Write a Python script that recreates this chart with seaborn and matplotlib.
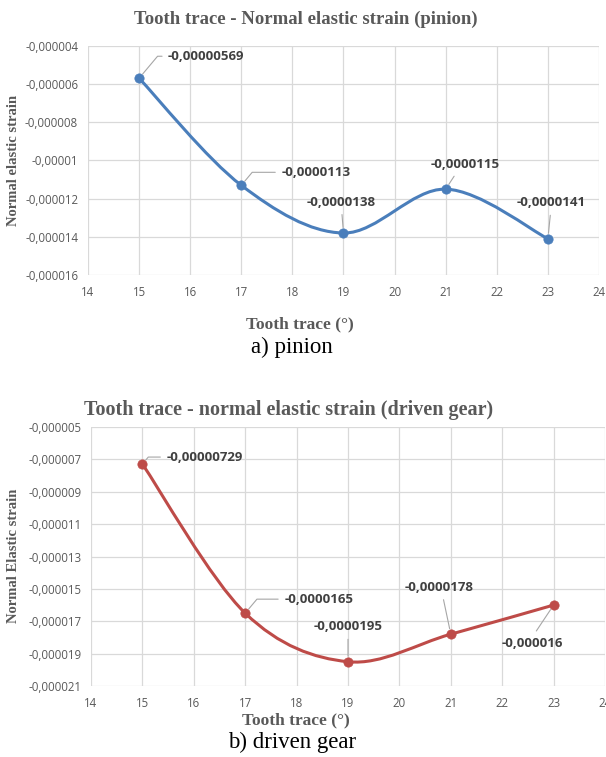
import numpy as np
import pandas as pd
import matplotlib
matplotlib.use("Agg")
import matplotlib.pyplot as plt
from matplotlib.path import Path
from matplotlib.patches import PathPatch
from matplotlib.ticker import FuncFormatter
import seaborn as sns

# data
tooth_trace = [15, 17, 19, 21, 23]
pinion_strain = [-0.00000569, -0.0000113, -0.0000138, -0.0000115, -0.0000141]
gear_strain = [-0.00000729, -0.0000165, -0.0000195, -0.0000178, -0.000016]
pinion_labels = ["-0,00000569", "-0,0000113", "-0,0000138", "-0,0000115", "-0,0000141"]
gear_labels = ["-0,00000729", "-0,0000165", "-0,0000195", "-0,0000178", "-0,000016"]
x_ticks = list(range(14, 25))
pinion_yticks = [-0.000016, -0.000014, -0.000012, -0.00001, -0.000008, -0.000006, -0.000004]
gear_yticks = [-0.000021, -0.000019, -0.000017, -0.000015, -0.000013, -0.000011,
               -0.000009, -0.000007, -0.000005]

sns.set_theme(style="whitegrid")
plt.rcParams["font.family"] = ["Open Sans", "DejaVu Sans"]

BLUE = "#4A7EBB"
RED = "#BE4B48"
GRID = "#D9D9D9"
TICK = "#595959"
LABEL = "#404040"
SERIF = ["Liberation Serif", "DejaVu Serif"]

W, H = 606, 757


def comma_fmt(v, pos=None):
    s = f"{v:.6f}".rstrip("0").rstrip(".")
    if s in ("-0", "0"):
        return "0"
    return s.replace(".", ",")


def smooth_path(xs, ys):
    # Excel-like smoothed line: cubic Bezier through the points
    pts = np.column_stack([xs, ys]).astype(float)
    ext = np.vstack([pts[0], pts, pts[-1]])
    verts = [pts[0]]
    codes = [Path.MOVETO]
    for i in range(len(pts) - 1):
        p0, p1, p2, p3 = ext[i], ext[i + 1], ext[i + 2], ext[i + 3]
        c1 = p1 + (p2 - p0) / 6.0
        c2 = p2 - (p3 - p1) / 6.0
        verts += [c1, c2, p2]
        codes += [Path.CURVE4] * 3
    return Path(verts, codes)


def style_axes(ax, yticks):
    ax.set_xlim(x_ticks[0], x_ticks[-1])
    ax.set_ylim(yticks[0], yticks[-1])
    ax.set_xticks(x_ticks)
    ax.set_yticks(yticks)
    ax.yaxis.set_major_formatter(FuncFormatter(comma_fmt))
    ax.grid(True, color=GRID, linewidth=0.9)
    for sp in ax.spines.values():
        sp.set_visible(False)
    ax.tick_params(axis="both", length=0, labelsize=8.3, colors=TICK)
    ax.tick_params(axis="x", pad=8)
    ax.tick_params(axis="y", pad=7)
    ax.set_xlabel("")
    ax.set_ylabel("")


def draw_series(ax, ys, color, labels, offsets):
    df = pd.DataFrame({"x": tooth_trace, "y": ys})
    ax.add_patch(PathPatch(smooth_path(df["x"], df["y"]), fill=False,
                           edgecolor=color, linewidth=2.2, zorder=3,
                           capstyle="round", joinstyle="round"))
    sns.scatterplot(data=df, x="x", y="y", color=color, s=45,
                    edgecolor=color, linewidth=0.5, zorder=4, ax=ax)
    for (x, y), lab, (dx, dy, ha, rel) in zip(zip(df["x"], df["y"]), labels, offsets):
        if ha == "left":
            cs = "angle,angleA=0,angleB=50,rad=0"
        else:
            cs = "arc3,rad=0"
        ax.annotate(lab, xy=(x, y), xytext=(dx, dy), textcoords="offset pixels",
                    ha=ha, va="center", fontsize=9.5, fontweight="bold", color=LABEL,
                    arrowprops=dict(arrowstyle="-", color="#A6A6A6", lw=0.8,
                                    shrinkA=2, shrinkB=4, relpos=rel,
                                    connectionstyle=cs),
                    zorder=5)


fig = plt.figure(figsize=(W / 100, H / 100), dpi=100)

# ---- a) pinion
ax1 = fig.add_axes([88 / W, 1 - 275 / H, 511 / W, 229 / H])
draw_series(ax1, pinion_strain, BLUE, pinion_labels, [
    (29, 22, "left", (0, 0.5)),
    (40, 13, "left", (0, 0.5)),
    (-2, 31, "center", (0.5, 0)),
    (19, 25, "center", (0.4, 0)),
    (3, 36, "center", (0.5, 0)),
])
style_axes(ax1, pinion_yticks)

# ---- b) driven gear
ax2 = fig.add_axes([91 / W, 1 - 686 / H, 514 / W, 259 / H])
draw_series(ax2, gear_strain, RED, gear_labels, [
    (24, 7, "left", (0, 0.5)),
    (39, 14, "left", (0, 0.5)),
    (0, 35, "center", (0.5, 0)),
    (-12, 47, "center", (0.55, 0)),
    (-21, -38, "center", (0.5, 1)),
])
style_axes(ax2, gear_yticks)

# titles, axis labels and captions
fig.text(306 / W, 1 - 19 / H, "Tooth trace - Normal elastic strain (pinion)",
         ha="center", va="center", family=SERIF, fontweight="bold",
         fontsize=13.5, color=TICK)
fig.text(289 / W, 1 - 410 / H, "Tooth trace - normal elastic strain (driven gear)",
         ha="center", va="center", family=SERIF, fontweight="bold",
         fontsize=14.5, color=TICK)
fig.text(14 / W, 1 - 160 / H, "Normal elastic strain", rotation=90,
         ha="center", va="center", family=SERIF, fontweight="bold",
         fontsize=10.5, color=TICK)
fig.text(14 / W, 1 - 556 / H, "Normal Elastic strain", rotation=90,
         ha="center", va="center", family=SERIF, fontweight="bold",
         fontsize=10.5, color=TICK)
fig.text(300 / W, 1 - 324 / H, "Tooth trace (°)", ha="center", va="center",
         family=SERIF, fontweight="bold", fontsize=12.5, color=TICK)
fig.text(296 / W, 1 - 720 / H, "Tooth trace (°)", ha="center", va="center",
         family=SERIF, fontweight="bold", fontsize=12.5, color=TICK)
fig.text(292 / W, 1 - 347 / H, "a) pinion", ha="center", va="center",
         family=SERIF, fontsize=16.5, color="black")
fig.text(292 / W, 1 - 742 / H, "b) driven gear", ha="center", va="center",
         family=SERIF, fontsize=16.5, color="black")

fig.savefig("out.png", dpi=100, facecolor="white")
